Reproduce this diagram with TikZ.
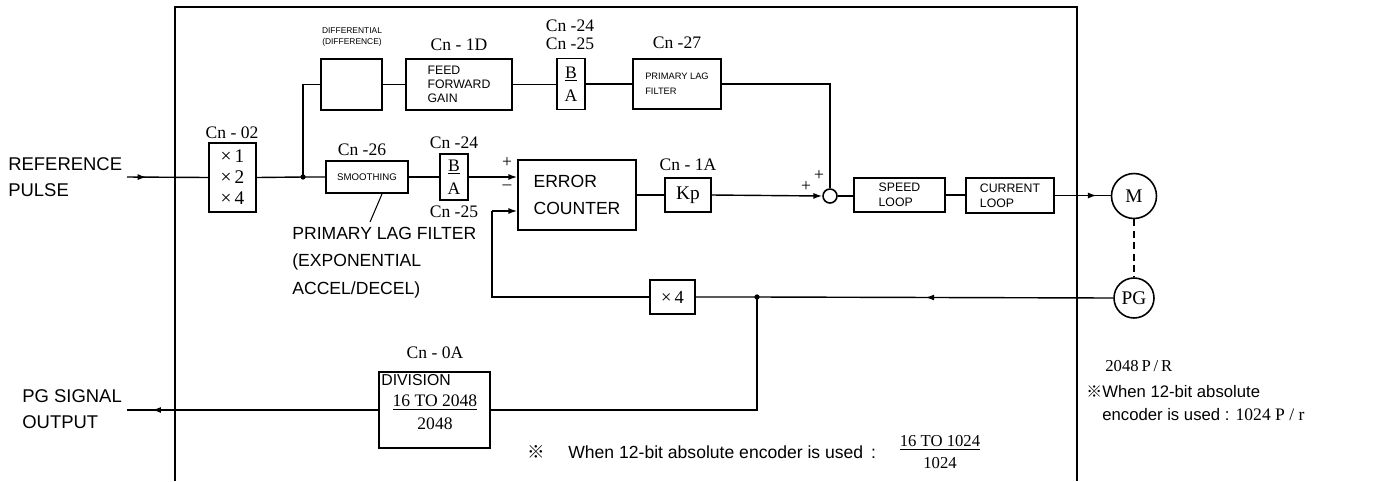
\documentclass[tikz,border=0pt]{standalone}
\usepackage{fontspec}
\setmainfont{Liberation Sans}
\newfontfamily\serifff{Liberation Serif}
\newfontfamily\cjkff{Noto Sans CJK JP}
\usetikzlibrary{arrows.meta,decorations.markings}
\tikzset{
  sz/.style 2 args={minimum width=#1*0.02cm, minimum height=#2*0.02cm},
  blk/.style={draw, line width=0.9pt, inner sep=0pt, align=center},
  cnlbl/.style={font=\serifff\fontsize{10}{11}\selectfont, inner sep=0pt, align=center},
  wire/.style={line width=0.8pt},
  tip/.style={-{Latex[length=5pt,width=3.4pt]}},
  midarrow/.style={postaction={decorate}, decoration={markings, mark=at position #1 with {\arrow{Latex[length=5pt,width=3.4pt]}}}},
  jdot/.style={circle, fill, inner sep=0pt, minimum size=3pt},
  sgn/.style={font=\serifff\fontsize{10}{10}\selectfont, inner sep=0pt}
}
\begin{document}
\begin{tikzpicture}[x=0.02cm,y=-0.02cm]
\useasboundingbox (0,0) rectangle (1377,481);
% frame
\draw[line width=0.6pt] (175,481) -- (175,7) -- (1077,7) -- (1077,481);

% blocks
\node[blk, sz={47}{69}, font=\serifff\fontsize{11}{12}\selectfont] (mul) at (232.5,177.5) {×\,1\\×\,2\\×\,4};
\node[blk, sz={61}{51}] (diff) at (351.5,84.5) {};
\node[blk, sz={106}{51}, align=left, font=\fontsize{7}{8}\selectfont] (ffg) at (459,84.5) {FEED\\FORWARD\\GAIN};
\node[blk, sz={28}{51}, font=\serifff\fontsize{10}{13}\selectfont] (ba1) at (571,84) {\underline{B}\\A};
\node[blk, sz={88}{50}, align=left, font=\fontsize{5.3}{8.5}\selectfont] (plf) at (677,84) {PRIMARY LAG\\FILTER};
\node[blk, sz={82}{32}, font=\fontsize{5.5}{6}\selectfont] (smooth) at (367,177) {SMOOTHING};
\node[blk, sz={28}{46}, font=\serifff\fontsize{10}{13}\selectfont] (ba2) at (454,177) {\underline{B}\\A};
\node[blk, sz={118}{70}, align=left, font=\fontsize{10}{15}\selectfont] (ec) at (577,195) {ERROR\\COUNTER};
\node[blk, sz={46}{34}, font=\serifff\fontsize{11}{12}\selectfont] (kp) at (688,195) {Kp};
\node[draw, circle, line width=0.9pt, minimum size=0.28cm, inner sep=0pt] (sum) at (830,196) {};
\node[blk, sz={91}{34}, align=left, font=\fontsize{7}{8.5}\selectfont] (speed) at (899.5,195) {SPEED\\LOOP};
\node[blk, sz={88}{35}, align=left, font=\fontsize{7}{8.5}\selectfont] (current) at (1010,195.5) {CURRENT\\LOOP};
\node[draw, circle, line width=0.9pt, minimum size=0.9cm, inner sep=0pt, font=\serifff\fontsize{11}{12}\selectfont] (M) at (1134,196) {M};
\node[draw, circle, line width=0.9pt, minimum size=0.8cm, inner sep=0pt, font=\serifff\fontsize{11}{12}\selectfont] (PG) at (1134,298) {PG};
\node[blk, sz={45}{34}, font=\serifff\fontsize{10.5}{12}\selectfont] (x4) at (672.5,297) {×\,4};
\node[blk, sz={111}{76}] (div) at (434.5,410) {};
\node[anchor=north west, inner sep=0pt, font=\fontsize{9}{10}\selectfont] (divt) at (381,374) {DIVISION};
\node[inner sep=0pt, align=center, font=\serifff\fontsize{10}{13}\selectfont] (divf) at (435,412) {\underline{16 TO 2048}\\2048};

% labels
\node[cnlbl] (l02) at (232,133) {Cn - 02};
\node[cnlbl] (l1d) at (459,45) {Cn - 1D};
\node[cnlbl, font=\serifff\fontsize{10}{10.5}\selectfont] (l2425a) at (570,35) {Cn -24\\Cn -25};
\node[cnlbl] (l27) at (677,43) {Cn -27};
\node[cnlbl] (l26) at (362,150) {Cn -26};
\node[cnlbl] (l24b) at (454,143) {Cn -24};
\node[cnlbl] (l25b) at (454,212) {Cn -25};
\node[cnlbl] (l1a) at (688,165) {Cn - 1A};
\node[cnlbl] (l0a) at (435,353) {Cn - 0A};
\node[inner sep=0pt, align=center, font=\fontsize{4.8}{6}\selectfont] (ldiff) at (352,37) {DIFFERENTIAL\\(DIFFERENCE)};

\node[anchor=west, inner sep=0pt, align=left, font=\fontsize{10.5}{15}\selectfont] (refp) at (8,177) {REFERENCE\\PULSE};
\node[anchor=west, inner sep=0pt, align=left, font=\fontsize{10.5}{15}\selectfont] (pgso) at (22,409) {PG SIGNAL\\OUTPUT};
\node[anchor=north west, inner sep=0pt, align=left, font=\fontsize{10}{15.5}\selectfont] (plfa) at (292,227) {PRIMARY LAG FILTER\\(EXPONENTIAL\\ACCEL/DECEL)};

\node[sgn] (pe1) at (507,163) {+};
\node[sgn] (pe2) at (507,187) {\textendash};
\node[sgn] (ps1) at (806,187) {+};
\node[sgn] (ps2) at (819,176) {+};

% notes
\node[anchor=west, inner sep=0pt, font=\fontsize{10}{10}\selectfont] (fnm) at (527,452) {\cjkff ※};
\node[anchor=west, inner sep=0pt, font=\fontsize{10}{11}\selectfont] (fnt) at (568,452) {When 12-bit absolute encoder is used\, :};
\node[inner sep=0pt, align=center, font=\serifff\fontsize{9.5}{12}\selectfont] (fnf) at (940,452) {\underline{16 TO 1024}\\1024};
\node[anchor=west, inner sep=0pt, font=\serifff\fontsize{9.5}{10}\selectfont] (ppr) at (1105,366) {2048\,P\,/\,R};
\node[anchor=west, inner sep=0pt, font=\fontsize{9}{9}\selectfont] (rnm) at (1086,392) {\cjkff ※};
\node[anchor=north west, inner sep=0pt, align=left, font=\fontsize{9.5}{13}\selectfont] (rnt) at (1102,385) {When 12-bit absolute\\encoder is used : {\serifff\fontsize{10}{13}\selectfont 1024\ P\ /\ r}};

% coordinates
\coordinate (refin) at (127,177);
\coordinate (jn) at (303,177);
\coordinate (jn2) at (757,297);
\coordinate (fb1) at (492,297);
\coordinate (fb2) at (492,211);
\coordinate (pgout) at (127,410);
\coordinate (ptr1) at (370,222);
\coordinate (ptr2) at (382,194);

% wires
\draw[wire, midarrow=0.24] (refin) -- (mul.west);
\draw[wire] (mul.east) -- (jn) -- (smooth.west);
\draw[wire] (jn) |- (diff.west);
\draw[wire] (diff.east) -- (ffg.west);
\draw[wire] (ffg.east) -- (ffg.east -| ba1.west);
\draw[wire] (ba1.east) -- (ba1.east -| plf.west);
\draw[wire] (plf.east) -| (sum.north);
\draw[wire] (smooth.east) -- (ba2.west);
\draw[wire, tip] (ba2.east) -- (ba2.east -| ec.west);
\draw[wire] (ec.east) -- (kp.west);
\draw[wire, tip] (kp.east) -- (sum.west);
\draw[wire] (sum.east) -- (sum.east -| speed.west);
\draw[wire] (speed.east) -- (speed.east -| current.west);
\draw[wire, midarrow=0.75] (current.east) -- (current.east -| M.west);
\draw[wire, dashed, dash pattern=on 4pt off 2.5pt] (M.south) -- (PG.north);
\draw[wire, midarrow=0.45] (PG.west) -- (jn2) -- (x4.east);
\draw[wire] (jn2) |- (div.east);
\draw[wire] (x4.west) -- (fb1) -- (fb2);
\draw[wire, tip] (fb2) -- (fb2 -| ec.west);
\draw[wire, midarrow=0.9] (div.west) -- (pgout);
\draw[line width=0.6pt] (ptr1) -- (ptr2);
\node[jdot] (d1) at (jn) {};
\node[jdot] (d2) at (jn2) {};
\end{tikzpicture}
\end{document}
